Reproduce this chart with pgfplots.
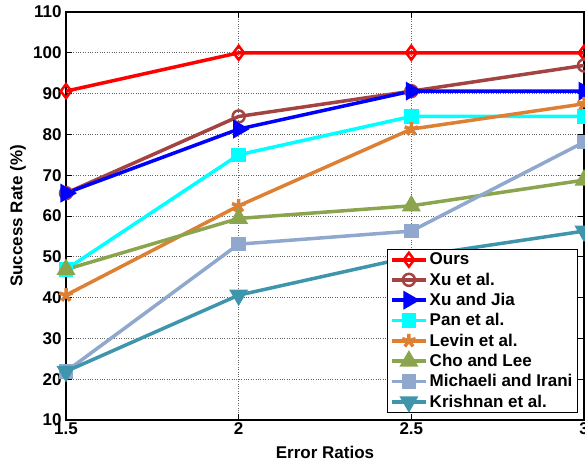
\documentclass[border=0pt]{standalone}
\usepackage{pgfplots}
\pgfplotsset{compat=1.18}
\usepackage{fontspec}
\setmainfont{Liberation Sans}
\usetikzlibrary{plotmarks}
\definecolor{cOurs}{RGB}{255,0,0}
\definecolor{cXu}{RGB}{163,68,66}
\definecolor{cXuJia}{RGB}{0,0,255}
\definecolor{cPan}{RGB}{0,255,255}
\definecolor{cLevin}{RGB}{222,128,52}
\definecolor{cCho}{RGB}{138,165,78}
\definecolor{cMich}{RGB}{145,168,206}
\definecolor{cKri}{RGB}{63,150,172}
\begin{document}
\begin{tikzpicture}
\begin{axis}[
  scale only axis,
  width=518pt, height=408pt,
  xmin=1.5, xmax=3, ymin=10, ymax=110,
  xtick={1.5,2,2.5,3}, xticklabels={1.5,2,2.5,3},
  ytick={10,20,...,110},
  /pgf/number format/assume math mode=true,
  tick label style={font=\bfseries\fontsize{17}{17}\selectfont},
  yticklabel style={xshift=-1pt},
  xticklabel style={yshift=1pt},
  xlabel={Error Ratios}, ylabel={Success Rate (\%)},
  every axis x label/.style={at={(axis description cs:0.5,0)}, yshift=-32pt, anchor=center, font=\bfseries\fontsize{17}{17}\selectfont},
  every axis y label/.style={at={(axis description cs:0,0.5)}, xshift=-48pt, rotate=90, anchor=center, font=\bfseries\fontsize{17}{17}\selectfont},
  grid=major,
  major grid style={black!60, dotted, line width=0.8pt},
  tick align=inside, tick pos=both,
  major tick length=6pt,
  axis line style={line width=1.2pt},
  every tick/.style={black, line width=0.8pt},
  legend cell align=left,
  legend style={font=\bfseries\fontsize{17}{18}\selectfont, draw=black, line width=0.8pt, inner xsep=3pt, inner ysep=2pt, row sep=2.5pt, at={(0.988,0.017)}, anchor=south east},
  legend image code/.code={\draw[#1, line width=3.5pt, mark repeat=2, mark phase=2] plot coordinates {(0cm,0cm) (0.6cm,0cm) (1.2cm,0cm)};},
  every axis plot/.append style={line width=3.5pt, mark size=6pt},
]
\addplot[cOurs, mark=diamond, mark options={solid, line width=2.5pt, mark size=7pt}] coordinates {(1.5,90.6) (2,100) (2.5,100) (3,100)};
\addlegendentry{Ours}
\addplot[cXu, mark=o, mark options={solid, line width=2.5pt}] coordinates {(1.5,65.6) (2,84.4) (2.5,90.6) (3,96.9)};
\addlegendentry{Xu et al.}
\addplot[cXuJia, mark=triangle*, mark options={solid, rotate=-90, fill=cXuJia, mark size=7.5pt}] coordinates {(1.5,65.6) (2,81.3) (2.5,90.6) (3,90.6)};
\addlegendentry{Xu and Jia}
\addplot[cPan, mark=square*, mark options={solid, fill=cPan, mark size=5.5pt}] coordinates {(1.5,46.9) (2,75) (2.5,84.4) (3,84.4)};
\addlegendentry{Pan et al.}
\addplot[cLevin, mark=star, mark options={solid, line width=3.5pt, mark size=7pt}] coordinates {(1.5,40.6) (2,62.5) (2.5,81.3) (3,87.5)};
\addlegendentry{Levin et al.}
\addplot[cCho, mark=triangle*, mark options={solid, fill=cCho, mark size=7.5pt}] coordinates {(1.5,46.9) (2,59.4) (2.5,62.5) (3,68.8)};
\addlegendentry{Cho and Lee}
\addplot[cMich, mark=square*, mark options={solid, fill=cMich, mark size=5.5pt}] coordinates {(1.5,21.9) (2,53.1) (2.5,56.3) (3,78.1)};
\addlegendentry{Michaeli and Irani}
\addplot[cKri, mark=triangle*, mark options={solid, rotate=180, fill=cKri, mark size=7.5pt}] coordinates {(1.5,21.9) (2,40.6) (2.5,50) (3,56.3)};
\addlegendentry{Krishnan et al.}
\end{axis}
\pgfresetboundingbox
\useasboundingbox ([shift={(-66pt,-43pt)}]current axis.south west) rectangle ([shift={(1pt,12pt)}]current axis.north east);
\end{tikzpicture}
\end{document}
